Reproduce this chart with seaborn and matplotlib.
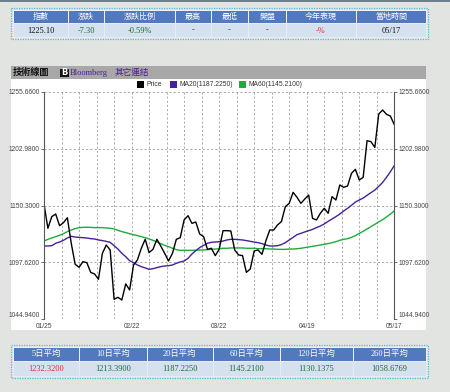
import matplotlib
matplotlib.use("Agg")
import matplotlib.pyplot as plt
from matplotlib.patches import Rectangle
import numpy as np
import pandas as pd
import seaborn as sns

# index level (one value per trading day)
price = [1151.7, 1129.2, 1140.0, 1142.4, 1131.6, 1134.4, 1139.0, 1115.3, 1095.9, 1093.1,
         1098.3, 1097.4, 1088.4, 1086.9, 1082.0, 1106.0, 1113.7, 1109.1, 1063.5, 1065.3,
         1062.8, 1077.7, 1072.1, 1095.2, 1099.9, 1110.7, 1119.0, 1106.7, 1109.7, 1119.0,
         1112.8, 1106.0, 1098.9, 1106.0, 1119.0, 1120.5, 1136.9, 1140.9, 1133.8, 1135.0,
         1123.9, 1121.5, 1109.7, 1110.7, 1103.9, 1109.7, 1127.0, 1127.0, 1126.7, 1109.1,
         1104.5, 1103.9, 1088.4, 1091.5, 1108.2, 1109.1, 1105.1, 1117.5, 1127.6, 1127.6,
         1132.3, 1135.4, 1149.2, 1152.3, 1162.5, 1157.9, 1152.3, 1156.3, 1160.0, 1138.4,
         1136.9, 1143.1, 1147.7, 1143.1, 1158.5, 1155.4, 1169.3, 1167.1, 1168.4, 1180.1,
         1183.8, 1173.9, 1176.4, 1210.3, 1209.4, 1204.1, 1235.0, 1238.7, 1234.7, 1233.1,
         1225.1]

ma20 = [1112.8, 1112.8, 1113.1, 1115.3, 1116.5, 1118.1, 1120.2, 1121.8, 1121.1, 1120.8,
        1120.5, 1120.2, 1119.6, 1119.3, 1118.4, 1117.8, 1117.1, 1116.2, 1113.1, 1110.0,
        1106.0, 1102.9, 1099.2, 1097.4, 1095.2, 1093.7, 1092.5, 1091.2, 1091.8, 1092.8,
        1093.7, 1094.3, 1094.6, 1095.2, 1096.8, 1098.0, 1098.9, 1101.4, 1105.4, 1108.5,
        1111.3, 1113.4, 1115.3, 1116.2, 1116.5, 1116.8, 1117.4, 1118.4, 1119.0, 1119.0,
        1118.7, 1118.4, 1117.8, 1117.1, 1116.5, 1115.9, 1115.0, 1113.7, 1112.8, 1112.8,
        1113.1, 1114.1, 1115.9, 1118.4, 1120.8, 1123.3, 1124.5, 1125.8, 1127.0, 1128.2,
        1129.8, 1131.3, 1133.2, 1135.6, 1137.8, 1140.0, 1142.4, 1145.2, 1147.7, 1150.5,
        1153.5, 1155.4, 1157.2, 1159.7, 1162.2, 1164.6, 1168.0, 1171.7, 1176.4, 1181.6,
        1187.225]

ma60 = [1117.4, 1119.0, 1120.2, 1121.5, 1122.7, 1124.2, 1126.1, 1127.6, 1128.9, 1129.8,
        1130.1, 1130.1, 1130.1, 1129.8, 1129.8, 1129.8, 1129.5, 1129.2, 1128.6, 1127.3,
        1126.1, 1125.2, 1124.2, 1123.3, 1122.4, 1121.5, 1120.5, 1119.3, 1118.1, 1116.5,
        1115.0, 1113.4, 1112.2, 1110.7, 1109.4, 1108.8, 1108.8, 1108.8, 1108.8, 1108.8,
        1109.1, 1109.1, 1109.4, 1109.7, 1110.0, 1110.3, 1110.7, 1110.7, 1111.0, 1111.0,
        1111.0, 1111.0, 1110.7, 1110.7, 1110.7, 1110.3, 1110.3, 1110.3, 1110.0, 1110.0,
        1109.7, 1109.7, 1109.7, 1110.0, 1110.0, 1110.3, 1110.7, 1111.3, 1111.9, 1112.5,
        1113.1, 1113.7, 1114.4, 1115.0, 1115.9, 1116.8, 1118.1, 1119.0, 1119.6, 1120.8,
        1122.4, 1124.5, 1126.4, 1128.6, 1130.7, 1132.9, 1135.0, 1137.2, 1139.7, 1142.4,
        1145.21]

date_labels = ["01/25", "02/22", "03/22", "04/19", "05/17"]
y_ticks = [1044.94, 1097.62, 1150.30, 1202.98, 1255.66]

quote_headers = ["指數", "漲跌", "漲跌比例", "最高", "最低", "開盤", "今年表現", "當地時間"]
quote_values = ["1225.10", "-7.30", "-0.59%", "-", "-", "-", "-%", "05/17"]
avg_headers = ["5日平均", "10日平均", "20日平均", "60日平均", "120日平均", "260日平均"]
avg_values = ["1232.3200", "1213.3900", "1187.2250", "1145.2100", "1130.1375", "1058.6769"]

BG = "#e2e4e2"
HEAD = "#5279bd"
ROW = "#d5e1ee"
BORDER = "#5ab8dc"
GREEN_TXT = "#1c6b32"
RED_TXT = "#e0283c"
C_PRICE = "#000000"
C_MA20 = "#44209a"
C_MA60 = "#1aad3c"

sns.set_theme(style="white")
plt.rcParams["font.family"] = ["Liberation Sans", "Noto Sans CJK TC", "DejaVu Sans"]
CJK = ["Noto Sans CJK TC", "DejaVu Sans"]
SERIF = ["Liberation Serif", "Noto Sans CJK TC"]

fig = plt.figure(figsize=(4.5, 3.92), dpi=100, facecolor=BG)

# page furniture drawn in pixel coordinates
bg = fig.add_axes([0, 0, 1, 1])
bg.set_xlim(0, 450)
bg.set_ylim(392, 0)
bg.axis("off")
bg.add_patch(Rectangle((0, 0), 450, 1.5, color="#6d7f8c", lw=0))


def table(xs, y0, y1, y2, headers, values, colors, hsize, vsize, hfont, vfont):
    bg.add_patch(Rectangle((xs[0] - 2, y0 - 2), xs[-1] - xs[0] + 4, y2 - y0 + 4,
                           fill=False, ec=BORDER, lw=0.9, ls=(0, (1, 1))))
    for i in range(len(headers)):
        w = xs[i + 1] - xs[i]
        bg.add_patch(Rectangle((xs[i], y0), w, y1 - y0, fc=HEAD, ec="white", lw=0.6))
        bg.add_patch(Rectangle((xs[i], y1), w, y2 - y1, fc=ROW, ec="#e8eef5", lw=0.6))
        cx = xs[i] + w / 2
        bg.text(cx, (y0 + y1) / 2, headers[i], color="white", fontsize=hsize,
                family=hfont, ha="center", va="center")
        bg.text(cx, (y1 + y2) / 2 + 0.3, values[i], color=colors[i], fontsize=vsize,
                family=vfont, ha="center", va="center")


table([13, 68, 104, 175, 211, 248, 286, 356, 426], 10, 23.3, 37.3,
      quote_headers, quote_values,
      ["#111111", GREEN_TXT, GREEN_TXT, "#333333", "#333333", "#333333", RED_TXT, "#111111"],
      5.8, 6.0, CJK, SERIF)

table([13, 79, 146.7, 213, 280, 352.7, 426], 346.7, 361, 375.7,
      avg_headers, avg_values, [RED_TXT] + [GREEN_TXT] * 5,
      6.0, 6.0, SERIF, SERIF)

# section header bar
bg.add_patch(Rectangle((11, 66), 415, 13, fc="#a8a8a8", lw=0))
bg.text(13, 72.8, "技術線圖", fontsize=6.6, weight="bold", family=CJK,
        color="#111111", va="center", ha="left")
bg.add_patch(Rectangle((60, 68.5), 9, 8.5, fc="#111111", lw=0))
bg.text(64.5, 72.8, "B", fontsize=6, weight="bold", color="white",
        family=["DejaVu Sans"], ha="center", va="center")
bg.text(69.5, 73.2, "Bloomberg", fontsize=6, family=SERIF, color="#4b1e8e",
        va="center", ha="left")
bg.text(115, 72.8, "其它連結", fontsize=6.2, family=CJK, color="#4b1e8e",
        va="center", ha="left")

# white chart panel
bg.add_patch(Rectangle((11, 79), 415, 251, fc="white", lw=0))

# legend row
leg = [("Price", C_PRICE, 136.7), ("MA20(1187.2250)", C_MA20, 170),
       ("MA60(1145.2100)", C_MA60, 239)]
for label, col, lx in leg:
    bg.add_patch(Rectangle((lx, 81), 7, 6.5, fc=col, lw=0))
    bg.text(lx + 9.5, 84.3, label, fontsize=4.9, color="#333333", va="center", ha="left")

# main chart
ax = fig.add_axes([44 / 450, 1 - 319.3 / 392, 350.3 / 450, 227.6 / 392])
ax.patch.set_alpha(0)

day = np.arange(len(price))
df = pd.DataFrame({"day": day, "Price": price, "MA20": ma20, "MA60": ma60})
long = df.melt(id_vars="day", var_name="series", value_name="value")
sns.lineplot(data=long, x="day", y="value", hue="series",
             hue_order=["MA60", "MA20", "Price"],
             palette={"Price": C_PRICE, "MA20": C_MA20, "MA60": C_MA60},
             linewidth=1.0, legend=False, ax=ax)

n = len(price) - 1
ax.set_xlim(0, n)
ax.set_ylim(y_ticks[0], y_ticks[-1])
ax.set_xticks(np.linspace(0, n, len(date_labels)))
ax.set_xticklabels(date_labels)
ax.set_xticks(np.linspace(0, n, 21), minor=True)
ax.set_yticks(y_ticks)
ax.set_yticklabels([f"{v:.4f}" for v in y_ticks])
ax.set_xlabel("")
ax.set_ylabel("")

grid_kw = dict(color="#9a9a9a", lw=0.6, ls=(0, (2.5, 2.5)))
ax.grid(True, which="both", axis="x", **grid_kw)
ax.grid(True, which="major", axis="y", **grid_kw)
ax.set_axisbelow(True)

for side in ["top", "bottom"]:
    ax.spines[side].set_visible(False)
for side in ["left", "right"]:
    ax.spines[side].set_visible(True)
    ax.spines[side].set_color("#555555")
    ax.spines[side].set_linewidth(0.8)

ax.tick_params(axis="y", which="major", left=True, right=True, labelleft=True,
               labelright=True, length=2.5, width=0.6, color="#555555", pad=0.5,
               labelsize=4.8, labelcolor="#444444")
ax.tick_params(axis="x", which="both", bottom=False, length=0, pad=2.6,
               labelsize=4.8, labelcolor="#444444")

# lowest value labels sit just above the date row, as in the original
for lab in (ax.get_yticklabels()[0], ax.get_yticklabels(which="major")[0]):
    lab.set_va("bottom")
for t in ax.yaxis.get_major_ticks()[:1]:
    t.label1.set_va("bottom")
    t.label2.set_va("bottom")

fig.savefig("out.png", dpi=100, facecolor=BG)
